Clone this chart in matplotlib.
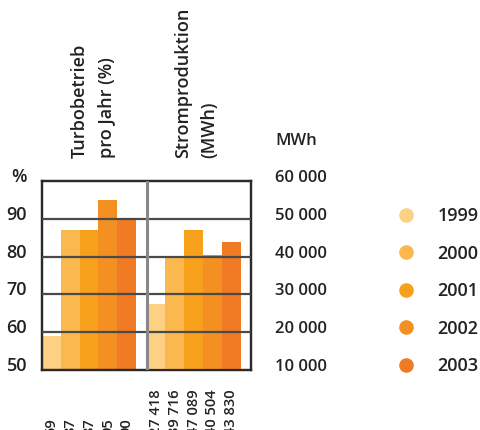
import matplotlib
matplotlib.use("Agg")
import matplotlib.pyplot as plt
import matplotlib.transforms as mtransforms
from matplotlib.lines import Line2D
import numpy as np

plt.rcParams['font.family'] = ['Open Sans', 'DejaVu Sans']

years = ["1999", "2000", "2001", "2002", "2003"]
colors = ["#FDD083", "#FBB84E", "#F6A01C", "#F48F21", "#F17A25"]
turbo_pct = [59, 87, 87, 95, 90]
strom_mwh = [27418, 39716, 47089, 40504, 43830]
turbo_labels = ["59", "87", "87", "95", "90"]
strom_labels = ["27 418", "39 716", "47 089", "40 504", "43 830"]
pct_ticks = [50, 60, 70, 80, 90, 100]
pct_ticklabels = ["50", "60", "70", "80", "90", "%"]
mwh_ticks = [10000, 20000, 30000, 40000, 50000, 60000]
mwh_ticklabels = ["10 000", "20 000", "30 000", "40 000", "50 000", "60 000"]
title_left = "Turbobetrieb\npro Jahr (%)"
title_right = "Stromproduktion\n(MWh)"
unit_right = "MWh"

W, H = 480, 430
fig = plt.figure(figsize=(W / 100, H / 100), dpi=100)
ax = fig.add_axes([42 / W, (H - 370) / H, (251 - 42) / W, (370 - 181) / H])
ax2 = ax.twinx()

txt = "#222222"
panel = 5.55
n = len(years)
xl = np.arange(n) + 0.5
xr = panel + np.arange(n) + 0.5

ax.bar(xl, np.array(turbo_pct) - 50, bottom=50, width=1.0, color=colors, zorder=2)
ax2.bar(xr, np.array(strom_mwh) - 10000, bottom=10000, width=1.0, color=colors, zorder=2)

ax.set_xlim(0, 2 * panel)
ax.set_ylim(50, 100)
ax2.set_ylim(10000, 60000)

for y in mwh_ticks[1:-1]:
    ax2.axhline(y, color="#4a4a4a", lw=1.6, zorder=5)
ax2.axvline(panel, color="#888888", lw=2.2, zorder=5)

for a in (ax, ax2):
    for s in a.spines.values():
        s.set_color("#2a2a2a")
        s.set_linewidth(1.6)
    a.set_xticks([])
    a.set_yticks([])

# left tick labels (manual so they can sit slightly above the gridlines)
off_l = mtransforms.ScaledTranslation(0, 4 / 100, fig.dpi_scale_trans)
tl = mtransforms.blended_transform_factory(fig.transFigure, ax.transData) + off_l
for y, lab in zip(pct_ticks, pct_ticklabels):
    ax.text(27 / W, y, lab, transform=tl, ha="right", va="center",
            fontsize=13, fontweight="semibold", color=txt, clip_on=False)

off_r = mtransforms.ScaledTranslation(0, 3 / 100, fig.dpi_scale_trans)
tr = mtransforms.blended_transform_factory(fig.transFigure, ax2.transData) + off_r
for y, lab in zip(mwh_ticks, mwh_ticklabels):
    ax2.text(275 / W, y, lab, transform=tr, ha="left", va="center",
             fontsize=12, fontweight="semibold", color=txt, clip_on=False)

fig.text(275 / W, (H - 141) / H, unit_right, ha="left", va="center",
         fontsize=12, fontweight="semibold", color=txt)

# rotated titles
fig.text(71 / W, (H - 158) / H, title_left, rotation=90, ha="left", va="bottom",
         fontsize=13, fontweight="semibold", color=txt, linespacing=1.62,
         multialignment="left")
fig.text(174 / W, (H - 158) / H, title_right, rotation=90, ha="left", va="bottom",
         fontsize=13, fontweight="semibold", color=txt, linespacing=1.62,
         multialignment="left")

# value labels under bars
for x, lab in zip(xl, turbo_labels):
    xf = ax.transData.transform((x, 50))[0]
    fig.text(xf / W, -5 / H, lab, rotation=90, ha="center", va="bottom",
             fontsize=10.5, fontweight="semibold", color=txt)
for x, lab in zip(xr, strom_labels):
    xf = ax.transData.transform((x, 50))[0]
    fig.text(xf / W, -5 / H, lab, rotation=90, ha="center", va="bottom",
             fontsize=10.5, fontweight="semibold", color=txt)

handles = [Line2D([], [], marker="o", linestyle="none", markersize=10.5,
                  markerfacecolor=c, markeredgecolor="none") for c in colors]
leg = fig.legend(handles, years, loc="upper left",
                 bbox_to_anchor=(372 / W, (H - 191) / H), frameon=False,
                 labelspacing=1.08, handletextpad=0.72,
                 prop={"size": 13, "weight": "semibold"})
for t in leg.get_texts():
    t.set_color(txt)

fig.savefig("out.png", dpi=100)
